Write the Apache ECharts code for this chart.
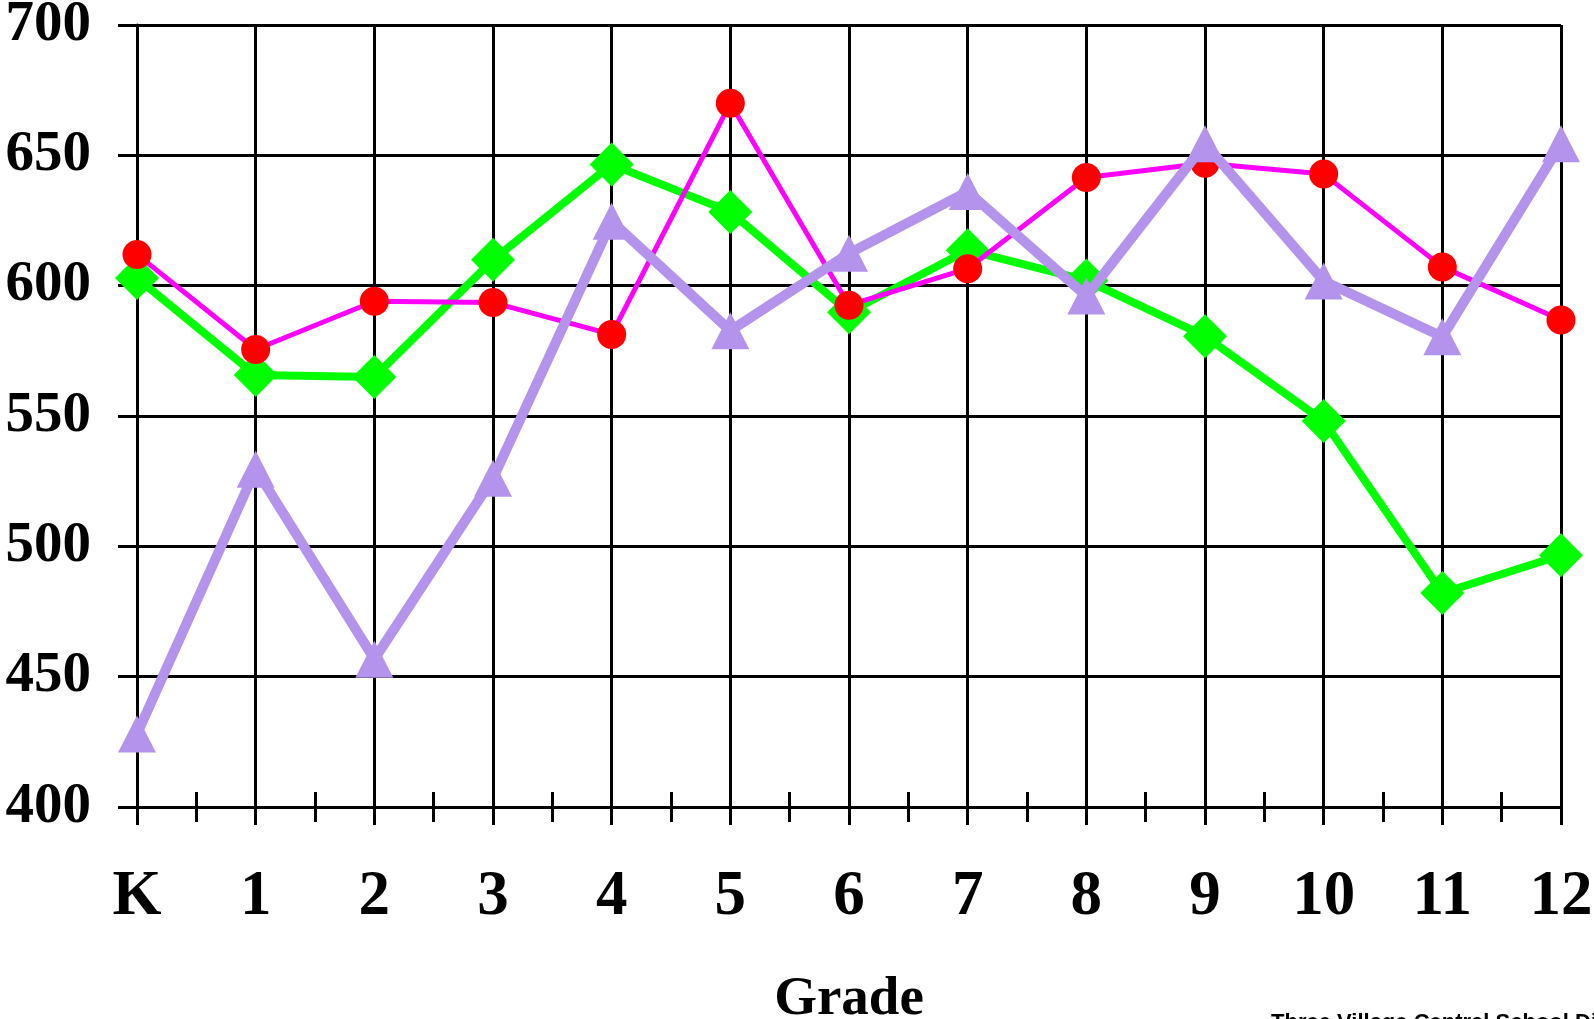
<!DOCTYPE html>
<html>
<head>
<meta charset="utf-8">
<script src="https://cdn.jsdelivr.net/npm/echarts@6/dist/echarts.min.js"></script>
<style>
html,body{margin:0;padding:0;background:#fff;}
#chart{width:1594px;height:1019px;}
</style>
</head>
<body>
<div id="chart"></div>
<script>
const grades = ['K','1','2','3','4','5','6','7','8','9','10','11','12'];
const yTicks = [400, 450, 500, 550, 600, 650, 700];
const seriesRed = [612, 575.5, 594, 593.5, 581.3, 670, 592.5, 606.5, 641.5, 647, 642.8, 607.2, 586.8];
const seriesGreen = [602.9, 565.7, 565, 609.9, 646.5, 628.3, 589.8, 613.6, 602, 580.6, 548.1, 482.1, 496.6];
const seriesPurple = [428, 529.6, 456.7, 526.1, 624.7, 582.7, 612.4, 636.1, 596, 654.4, 601.8, 580.4, 654.4];
const xTitle = 'Grade';
const footer = 'Three Village Central School District';

const serif = '"Liberation Serif","Times New Roman",serif';
const chart = echarts.init(document.getElementById('chart'), null, {renderer: 'canvas'});

const minorAxis = (inside) => ({
  type: 'value', min: 0, max: grades.length - 1, interval: 1,
  position: 'bottom', gridIndex: 0,
  axisLine: {show: false},
  axisLabel: {show: false},
  splitLine: {show: false},
  axisTick: {show: true, inside: inside, length: 15, lineStyle: {color: '#000', width: 3}},
  minorTick: {show: true, splitNumber: 2, length: 15, lineStyle: {color: '#000', width: 3}}
});

chart.setOption({
  backgroundColor: '#ffffff',
  animation: false,
  grid: {left: 137, right: 33, top: 25, bottom: 212, containLabel: false, outerBoundsMode: 'none'},
  xAxis: [
    {
      type: 'category', data: grades, boundaryGap: false,
      axisLine: {show: true, lineStyle: {color: '#000', width: 3}},
      axisTick: {show: true, alignWithLabel: true, length: 18, lineStyle: {color: '#000', width: 3}},
      splitLine: {show: true, lineStyle: {color: '#000', width: 3}},
      axisLabel: {fontFamily: serif, fontWeight: 'bold', fontSize: 63, lineHeight: 63, color: '#000', margin: 59, interval: 0},
      name: xTitle, nameLocation: 'middle', nameGap: 165,
      nameTextStyle: {fontFamily: serif, fontWeight: 'bold', fontSize: 55, lineHeight: 55, color: '#000'},
      z: 3
    },
    minorAxis(false),
    minorAxis(true)
  ],
  yAxis: {
    type: 'value', min: yTicks[0], max: yTicks[yTicks.length - 1], interval: yTicks[1] - yTicks[0],
    axisLine: {show: true, lineStyle: {color: '#000', width: 3}},
    axisTick: {show: true, length: 19, lineStyle: {color: '#000', width: 3}},
    splitLine: {show: true, lineStyle: {color: '#000', width: 3}},
    axisLabel: {fontFamily: serif, fontWeight: 'bold', fontSize: 57, color: '#000', margin: 46}
  },
  series: [
    {
      name: 'green', type: 'line', data: seriesGreen,
      symbol: 'diamond', symbolSize: [44, 44],
      lineStyle: {color: '#00ff00', width: 8},
      itemStyle: {color: '#00ff00'},
      z: 4
    },
    {
      name: 'red', type: 'line', data: seriesRed,
      symbol: 'circle', symbolSize: 29,
      lineStyle: {color: '#ff00ff', width: 5},
      itemStyle: {color: '#ff0000'},
      z: 5
    },
    {
      name: 'purple', type: 'line', data: seriesPurple,
      symbol: 'triangle', symbolSize: [38, 37],
      lineStyle: {color: '#b393eb', width: 10},
      itemStyle: {color: '#b393eb'},
      z: 6
    }
  ],
  graphic: [
    {
      type: 'text', left: 1271, top: 1012,
      style: {text: footer, font: 'bold 22px "Liberation Sans", Arial, sans-serif', fill: '#000'}
    }
  ]
});
</script>
</body>
</html>
